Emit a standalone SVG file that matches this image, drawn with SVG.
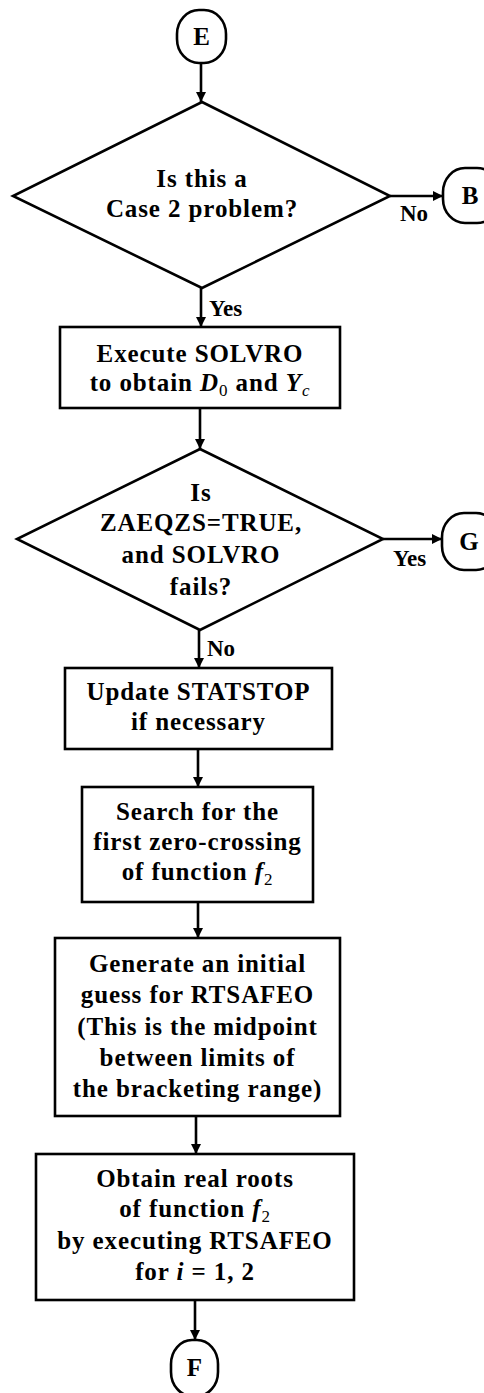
<svg xmlns="http://www.w3.org/2000/svg" width="484" height="1393" viewBox="0 0 484 1393">
<style>
.s{fill:none;stroke:#000;stroke-width:2.6}
.t{font-family:"Liberation Serif",serif;font-weight:bold;font-size:25px;letter-spacing:0.9px;fill:#000;text-anchor:middle}
.k{font-family:"Liberation Serif",serif;font-weight:bold;font-size:25px;fill:#000;text-anchor:middle}
.l{font-family:"Liberation Serif",serif;font-weight:bold;font-size:23px;fill:#000}
.m{font-style:italic}
.c{stroke:#000;stroke-width:2.6;fill:none;marker-end:url(#ah)}
</style>
<defs>
<marker id="ah" viewBox="0 0 10 10" refX="10" refY="5" markerWidth="11" markerHeight="10" markerUnits="userSpaceOnUse" orient="auto">
<path d="M0,0 L10,5 L0,10 z" fill="#000"/>
</marker>
</defs>
<rect width="484" height="1393" fill="#fff"/>
<g id="connectors">
<line class="c" x1="201" y1="63" x2="201" y2="102"/>
<line class="c" x1="390" y1="196" x2="443" y2="196"/>
<line class="c" x1="201" y1="288" x2="201" y2="327"/>
<line class="c" x1="200" y1="408" x2="200" y2="449"/>
<line class="c" x1="383" y1="539" x2="442" y2="539"/>
<line class="c" x1="199" y1="630" x2="199" y2="668"/>
<line class="c" x1="198" y1="749" x2="198" y2="787"/>
<line class="c" x1="198" y1="902" x2="198" y2="938"/>
<line class="c" x1="196" y1="1116" x2="196" y2="1154"/>
<line class="c" x1="195" y1="1300" x2="195" y2="1340"/>
<text class="l" x="400" y="221">No</text>
<text class="l" x="209" y="316">Yes</text>
<text class="l" x="393" y="566">Yes</text>
<text class="l" x="207" y="656">No</text>
</g>
<g id="E">
<rect class="s" x="177" y="10" width="49" height="53" rx="22" ry="24"/>
<text class="k" x="201.5" y="45">E</text>
</g>
<g id="decision1">
<polygon class="s" points="202,102 390,196 202,288 13,196"/>
<text class="t" x="202" y="187">Is this a</text>
<text class="t" x="202" y="217">Case 2 problem?</text>
</g>
<g id="B">
<rect class="s" x="443" y="168" width="56" height="55" rx="22" ry="24"/>
<text class="k" x="470" y="204">B</text>
</g>
<g id="solvro">
<rect class="s" x="60" y="327" width="280" height="81"/>
<text class="t" x="200" y="362">Execute SOLVRO</text>
<text class="t" x="200" y="391">to obtain <tspan class="m">D</tspan><tspan dy="5" style="font-size:17px;font-weight:normal">0</tspan><tspan dy="-5"> and </tspan><tspan class="m">Y</tspan><tspan class="m" dy="5" style="font-size:17px;font-weight:normal">c</tspan></text>
</g>
<g id="decision2">
<polygon class="s" points="200,449 383,539 200,630 17,539"/>
<text class="t" x="201" y="501">Is</text>
<text class="t" x="201" y="531">ZAEQZS=TRUE,</text>
<text class="t" x="201" y="563">and SOLVRO</text>
<text class="t" x="201" y="595">fails?</text>
</g>
<g id="G">
<rect class="s" x="442" y="513" width="56" height="57" rx="22" ry="24"/>
<text class="k" x="469" y="550">G</text>
</g>
<g id="statstop">
<rect class="s" x="65" y="668" width="267" height="81"/>
<text class="t" x="198.5" y="700">Update STATSTOP</text>
<text class="t" x="198.5" y="730">if necessary</text>
</g>
<g id="search">
<rect class="s" x="82" y="787" width="231" height="115"/>
<text class="t" x="197.5" y="820">Search for the</text>
<text class="t" x="197.5" y="850">first zero-crossing</text>
<text class="t" x="197.5" y="880">of function <tspan class="m">f</tspan><tspan dy="5" style="font-size:17px;font-weight:normal">2</tspan></text>
</g>
<g id="guess">
<rect class="s" x="55" y="938" width="285" height="178"/>
<text class="t" x="197.5" y="972">Generate an initial</text>
<text class="t" x="197.5" y="1003">guess for RTSAFEO</text>
<text class="t" x="197.5" y="1035">(This is the midpoint</text>
<text class="t" x="197.5" y="1066">between limits of</text>
<text class="t" x="197.5" y="1097">the bracketing range)</text>
</g>
<g id="roots">
<rect class="s" x="36" y="1154" width="318" height="146"/>
<text class="t" x="195" y="1187">Obtain real roots</text>
<text class="t" x="195" y="1217">of function <tspan class="m">f</tspan><tspan dy="5" style="font-size:17px;font-weight:normal">2</tspan></text>
<text class="t" x="195" y="1249">by executing RTSAFEO</text>
<text class="t" x="195" y="1280">for <tspan class="m">i</tspan> = 1, 2</text>
</g>
<g id="F">
<rect class="s" x="171" y="1340" width="47" height="56" rx="21" ry="24"/>
<text class="k" x="194.5" y="1376">F</text>
</g>
</svg>
